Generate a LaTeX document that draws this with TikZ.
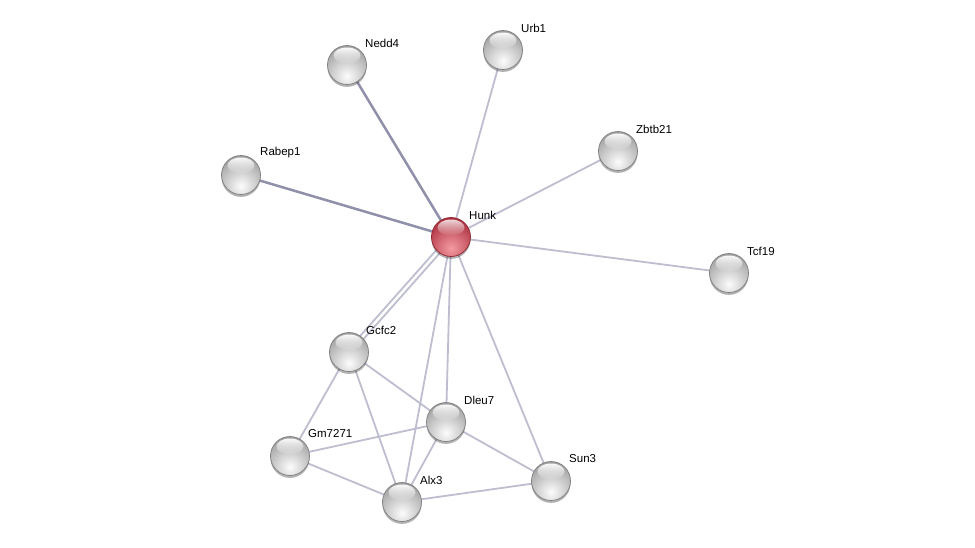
\documentclass[tikz,border=0pt]{standalone}
\usepackage{fontspec}
\setmainfont{Liberation Sans}
\usetikzlibrary{calc,shadows,fadings,backgrounds}
\definecolor{edgelight}{HTML}{BEBED0}
\definecolor{edgedark}{HTML}{9090AA}
\definecolor{grayrim}{HTML}{7E7E7E}
\definecolor{grayout}{HTML}{9C9C9C}
\definecolor{grayin}{HTML}{FCFCFC}
\definecolor{redrim}{HTML}{8E2430}
\definecolor{redout}{HTML}{A82A38}
\definecolor{redin}{HTML}{F49AA2}
\tikzset{
  ballbase/.style={circle, minimum size=39pt, inner sep=0pt, line width=0.7pt,
    drop shadow={shadow xshift=0pt, shadow yshift=-2.4pt, opacity=0.4, fill=black!75}},
  gball/.style={ballbase, draw=grayrim,
    path picture={
      \shade[inner color=grayin, outer color=grayout]
        ([yshift=-11pt]path picture bounding box.center) circle (31pt);
      \fill[white, path fading=south, fill opacity=0.95]
        ([yshift=9.5pt]path picture bounding box.center) ellipse (13.5pt and 8pt);
    }},
  rball/.style={ballbase, draw=redrim,
    path picture={
      \shade[inner color=redin, outer color=redout]
        ([yshift=-11pt]path picture bounding box.center) circle (31pt);
      \fill[white, path fading=south, fill opacity=0.8]
        ([yshift=9.5pt]path picture bounding box.center) ellipse (13.5pt and 8pt);
    }},
  lbl/.style={anchor=west, inner sep=0pt, font=\fontsize{11.5}{13}\selectfont, text=black},
  elight/.style={draw=edgelight, line width=1.8pt},
  edark/.style={draw=edgedark, line width=2.5pt}
}
\begin{document}
\begin{tikzpicture}[x=1pt, y=-1pt]
\useasboundingbox (0,0) rectangle (975,547);
% nodes
\node[rball] (hunk) at (451,237) {};
\node[gball] (nedd4) at (347,65) {};
\node[gball] (urb1) at (503,50) {};
\node[gball] (zbtb21) at (618,151) {};
\node[gball] (rabep1) at (241,175) {};
\node[gball] (tcf19) at (729,273) {};
\node[gball] (gcfc2) at (349,352) {};
\node[gball] (dleu7) at (446,422) {};
\node[gball] (gm7271) at (290,456) {};
\node[gball] (alx3) at (402,502) {};
\node[gball] (sun3) at (551,481) {};
% labels
\node[lbl] (hunkL) at ($(hunk)+(18,-22)$) {Hunk};
\node[lbl] (nedd4L) at ($(nedd4)+(18,-22)$) {Nedd4};
\node[lbl] (urb1L) at ($(urb1)+(18,-22)$) {Urb1};
\node[lbl] (zbtb21L) at ($(zbtb21)+(18,-22)$) {Zbtb21};
\node[lbl] (rabep1L) at ($(rabep1)+(19,-22)$) {Rabep1};
\node[lbl] (tcf19L) at ($(tcf19)+(18,-22)$) {Tcf19};
\node[lbl] (gcfc2L) at ($(gcfc2)+(17,-22)$) {Gcfc2};
\node[lbl] (dleu7L) at ($(dleu7)+(18,-22)$) {Dleu7};
\node[lbl] (gm7271L) at ($(gm7271)+(18,-22)$) {Gm7271};
\node[lbl] (alx3L) at ($(alx3)+(18,-22)$) {Alx3};
\node[lbl] (sun3L) at ($(sun3)+(18,-22)$) {Sun3};
% edges
\begin{pgfonlayer}{background}
\fill[white] (0,0) rectangle (975,547);
\draw[edark] (hunk.center) -- (nedd4.center);
\draw[edark] (hunk.center) -- (rabep1.center);
\draw[elight] (hunk.center) -- (urb1.center);
\draw[elight] (hunk.center) -- (zbtb21.center);
\draw[elight] (hunk.center) -- (tcf19.center);
\draw[elight] ($(hunk.center)!2.3pt!90:(gcfc2.center)$) -- ($(gcfc2.center)!2.3pt!-90:(hunk.center)$);
\draw[elight] ($(hunk.center)!2.3pt!-90:(gcfc2.center)$) -- ($(gcfc2.center)!2.3pt!90:(hunk.center)$);
\draw[elight] (hunk.center) -- (alx3.center);
\draw[elight] (hunk.center) -- (dleu7.center);
\draw[elight] (hunk.center) -- (sun3.center);
\draw[elight] (gcfc2.center) -- (gm7271.center);
\draw[elight] (gcfc2.center) -- (alx3.center);
\draw[elight] (gcfc2.center) -- (dleu7.center);
\draw[elight] (gm7271.center) -- (dleu7.center);
\draw[elight] (gm7271.center) -- (alx3.center);
\draw[elight] (dleu7.center) -- (alx3.center);
\draw[elight] (dleu7.center) -- (sun3.center);
\draw[elight] (alx3.center) -- (sun3.center);
\end{pgfonlayer}
\end{tikzpicture}
\end{document}
